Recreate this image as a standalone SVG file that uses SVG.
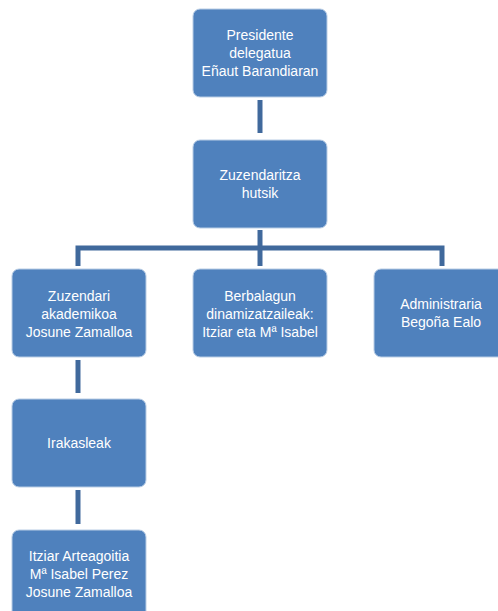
<svg xmlns="http://www.w3.org/2000/svg" width="498" height="611" viewBox="0 0 498 611">
<style>
.box{fill:#4F81BD;stroke:#B9CDE5;stroke-width:1}
.t{font-family:"Liberation Sans",Arial,sans-serif;font-size:14px;fill:#FFFFFF;text-anchor:middle}
.c{stroke:#40699C;stroke-width:5;fill:none}
</style>
<rect width="498" height="611" fill="#FFFFFF"/>
<g id="connectors">
<path class="c" d="M260 100V133"/>
<path class="c" d="M260 230V248"/>
<path class="c" d="M78 266V248H442V266"/>
<path class="c" d="M260 248V266"/>
<path class="c" d="M78 360V393"/>
<path class="c" d="M78 490V524"/>
</g>
<g id="n1"><rect class="box" x="193" y="9" width="134" height="88" rx="7"/>
<text class="t" x="260" y="40">Presidente</text><text class="t" x="260" y="58">delegatua</text><text class="t" x="260" y="76">Eñaut Barandiaran</text></g>
<g id="n2"><rect class="box" x="193" y="140" width="134" height="88" rx="7"/>
<text class="t" x="260" y="180">Zuzendaritza</text><text class="t" x="260" y="198">hutsik</text></g>
<g id="n3"><rect class="box" x="12" y="269" width="134" height="88" rx="7"/>
<text class="t" x="79" y="301">Zuzendari</text><text class="t" x="79" y="319">akademikoa</text><text class="t" x="79" y="337">Josune Zamalloa</text></g>
<g id="n4"><rect class="box" x="193" y="269" width="134" height="88" rx="7"/>
<text class="t" x="260" y="301">Berbalagun</text><text class="t" x="260" y="319">dinamizatzaileak:</text><text class="t" x="260" y="337">Itziar eta Mª Isabel</text></g>
<g id="n5"><rect class="box" x="374" y="269" width="134" height="88" rx="7"/>
<text class="t" x="441" y="309">Administraria</text><text class="t" x="441" y="327">Begoña Ealo</text></g>
<g id="n6"><rect class="box" x="12" y="399" width="134" height="88" rx="7"/>
<text class="t" x="79" y="448">Irakasleak</text></g>
<g id="n7"><rect class="box" x="12" y="530" width="134" height="88" rx="7"/>
<text class="t" x="79" y="561">Itziar Arteagoitia</text><text class="t" x="79" y="579">Mª Isabel Perez</text><text class="t" x="79" y="597">Josune Zamalloa</text></g>
</svg>
